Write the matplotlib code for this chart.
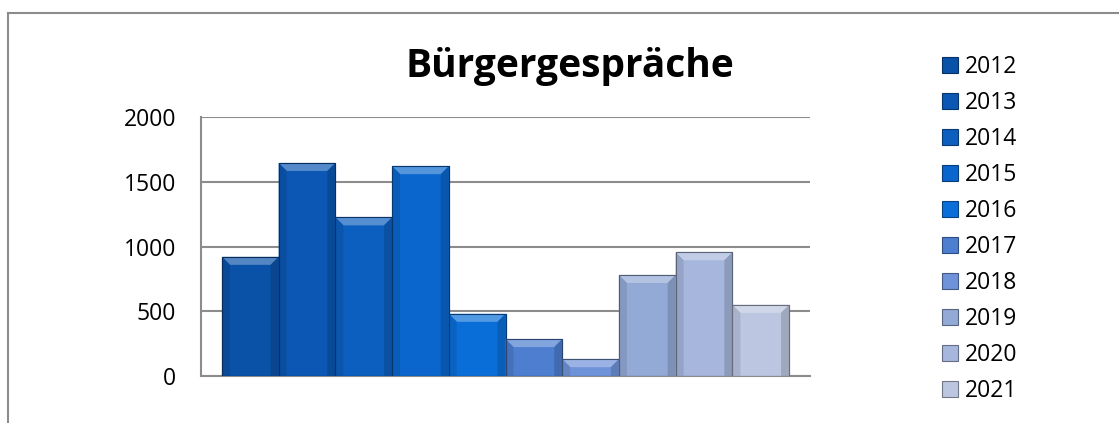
#!/usr/bin/env python3
"""Bürgergespräche per year, bevelled column chart with legend on the right."""

import matplotlib
matplotlib.use("Agg")
import matplotlib.pyplot as plt
from matplotlib.patches import Polygon, Rectangle
from matplotlib.colors import to_rgb
import numpy as np

plt.rcParams["font.family"] = ["Open Sans", "DejaVu Sans"]

# Data
YEARS = ["2012", "2013", "2014", "2015", "2016",
         "2017", "2018", "2019", "2020", "2021"]
VALUES = [920, 1645, 1225, 1620, 480, 285, 130, 780, 955, 550]
COLORS = ["#0a52a8", "#0b57b3", "#0c5fbf", "#0a66cc", "#0a6ed8",
          "#4d7ed0", "#6f93d8", "#93a9d6", "#a6b6dc", "#bcc6e0"]
Y_TICKS = [0, 500, 1000, 1500, 2000]
TITLE = "Bürgergespräche"


def shade(color, f):
    """f > 0 lightens towards white, f < 0 darkens towards black."""
    r = np.array(to_rgb(color))
    if f >= 0:
        return tuple(r + (1 - r) * f)
    return tuple(r * (1 + f))


def main():
    fig = plt.figure(figsize=(11.19, 4.23), dpi=100)
    ax = fig.add_axes([0.1796, 0.1111, 0.5443, 0.6123])

    x = np.arange(len(VALUES))
    ax.set_xlim(-0.5 - 0.37, len(VALUES) - 0.5 + 0.37)
    ax.set_ylim(0, 2000)

    bars = ax.bar(x, VALUES, width=1.0, color=COLORS,
                  edgecolor=[shade(c, -0.45) for c in COLORS],
                  linewidth=0.8, zorder=3)

    # bevel: size in pixels, converted to data units
    w_px = ax.transData.transform((1, 0))[0] - ax.transData.transform((0, 0))[0]
    h_px = ax.transData.transform((0, 1))[1] - ax.transData.transform((0, 0))[1]
    bx = 8 / w_px
    by = 8 / h_px
    for b, c in zip(bars, COLORS):
        x0, w, h = b.get_x(), b.get_width(), b.get_height()
        x1 = x0 + w
        d = min(by, h / 2)
        dx = min(bx, w / 2)
        # top highlight
        ax.add_patch(Polygon([(x0, h), (x1, h), (x1 - dx, h - d), (x0 + dx, h - d)],
                             closed=True, facecolor=shade(c, 0.3),
                             edgecolor="none", zorder=4))
        # side shading
        ax.add_patch(Polygon([(x0, 0), (x0, h), (x0 + dx, h - d), (x0 + dx, 0)],
                             closed=True, facecolor=shade(c, -0.1),
                             edgecolor="none", zorder=4))
        ax.add_patch(Polygon([(x1, 0), (x1, h), (x1 - dx, h - d), (x1 - dx, 0)],
                             closed=True, facecolor=shade(c, -0.15),
                             edgecolor="none", zorder=4))
        ax.add_patch(Rectangle((x0, 0), w, h, facecolor="none",
                               edgecolor=shade(c, -0.45), linewidth=0.8, zorder=5))

    ax.set_yticks(Y_TICKS)
    ax.set_xticks([])
    ax.yaxis.grid(True, color="#8c8c8c", linewidth=1.5, zorder=0)
    ax.tick_params(axis="y", length=0, pad=18, labelsize=16.5, labelcolor="#000000")
    for s in ("top", "right"):
        ax.spines[s].set_visible(False)
    for s in ("left", "bottom"):
        ax.spines[s].set_color("#8c8c8c")
        ax.spines[s].set_linewidth(1.5)

    fig.text(0.509, 0.843, TITLE, ha="center", va="center",
             fontsize=28, fontweight="bold")

    handles = [Rectangle((0, 0), 1, 1, facecolor=c,
                         edgecolor=shade(c, -0.4), linewidth=0.8) for c in COLORS]
    fig.legend(handles, YEARS, loc="upper left",
               bbox_to_anchor=(0.842, 0.869), frameon=False, fontsize=16.5,
               handlelength=0.7, handleheight=0.7, handletextpad=0.3,
               labelspacing=0.52, borderaxespad=0, borderpad=0)

    # outer chart frame (cropped on right/bottom in the reference)
    fig.add_artist(plt.Line2D([0.0072, 1.0], [0.969, 0.969],
                              transform=fig.transFigure, color="#8c8c8c", lw=1.5))
    fig.add_artist(plt.Line2D([0.0072, 0.0072], [0.0, 0.969],
                              transform=fig.transFigure, color="#8c8c8c", lw=1.5))

    fig.savefig("out.png", dpi=100)
    plt.close(fig)


if __name__ == "__main__":
    main()
